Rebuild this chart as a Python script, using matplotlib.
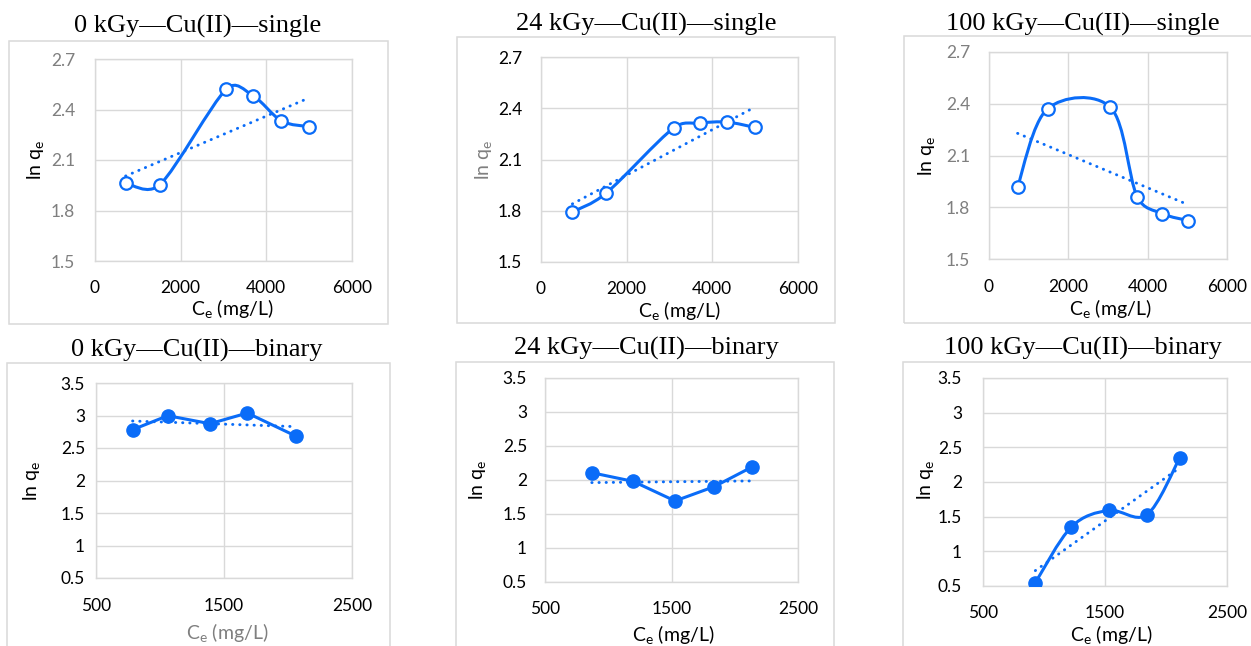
import numpy as np
import matplotlib
matplotlib.use("Agg")
import matplotlib.pyplot as plt
from matplotlib.path import Path
from matplotlib.patches import PathPatch, Rectangle

plt.rcParams["font.family"] = ["Lato", "DejaVu Sans"]
plt.rcParams["mathtext.default"] = "regular"

# ---------------- data ----------------
titles = [
    "0 kGy\u2014Cu(II)\u2014single",
    "24 kGy\u2014Cu(II)\u2014single",
    "100 kGy\u2014Cu(II)\u2014single",
    "0 kGy\u2014Cu(II)\u2014binary",
    "24 kGy\u2014Cu(II)\u2014binary",
    "100 kGy\u2014Cu(II)\u2014binary",
]

ce_single_0 = [715, 1515, 3070, 3690, 4350, 4990]
lnqe_single_0 = [1.962, 1.954, 2.522, 2.482, 2.333, 2.298]
ce_single_24 = [733, 1520, 3094, 3702, 4341, 4988]
lnqe_single_24 = [1.793, 1.903, 2.284, 2.313, 2.319, 2.288]
ce_single_100 = [721, 1477, 3062, 3733, 4371, 5017]
lnqe_single_100 = [1.920, 2.371, 2.379, 1.862, 1.763, 1.723]

ce_binary_0 = [786, 1061, 1391, 1682, 2066]
lnqe_binary_0 = [2.782, 2.997, 2.874, 3.038, 2.679]
ce_binary_24 = [870, 1197, 1528, 1837, 2135]
lnqe_binary_24 = [2.107, 1.980, 1.692, 1.902, 2.190]
ce_binary_100 = [929, 1224, 1530, 1844, 2112]
lnqe_binary_100 = [0.548, 1.351, 1.591, 1.529, 2.346]

single_xticks = [0, 2000, 4000, 6000]
single_yticks = [1.5, 1.8, 2.1, 2.4, 2.7]
binary_xticks = [500, 1500, 2500]
binary_yticks = [0.5, 1, 1.5, 2, 2.5, 3, 3.5]

# ---------------- styling ----------------
W, H = 1251, 646
BLUE = "#0a6cf8"
GRID = "#d9d9d9"
GRAY = "#7f7f7f"
BLACK = "#000000"

fig = plt.figure(figsize=(W / 100, H / 100), dpi=100)
fig.patch.set_facecolor("white")


def smooth_path(ax, xs, ys, tension=1.0 / 6.0):
    """Bezier spline through the points; control arms are built in screen
    space and capped at half of each segment's length."""
    pts = np.column_stack([xs, ys]).astype(float)
    disp = ax.transData.transform(pts)
    n = len(disp)
    ext = np.vstack([disp[0], disp, disp[-1]])
    verts = [disp[0]]
    codes = [Path.MOVETO]
    for i in range(n - 1):
        p0, p1, p2, p3 = ext[i], ext[i + 1], ext[i + 2], ext[i + 3]
        d12 = np.hypot(*(p2 - p1))
        d02 = np.hypot(*(p2 - p0))
        d13 = np.hypot(*(p3 - p1))
        f1 = tension if d02 * tension <= 0.5 * d12 or d02 == 0 else 0.5 * d12 / d02
        f2 = tension if d13 * tension <= 0.5 * d12 or d13 == 0 else 0.5 * d12 / d13
        c1 = p1 + (p2 - p0) * f1
        c2 = p2 - (p3 - p1) * f2
        verts += [c1, c2, p2]
        codes += [Path.CURVE4] * 3
    data_verts = ax.transData.inverted().transform(np.array(verts))
    return Path(data_verts, codes)


panels = [
    dict(x=ce_single_0, y=lnqe_single_0, kind="single", smooth=True,
         ax=(95, 59, 352, 261), box=(9, 41, 388, 324),
         title=(198, 33), ylab=(35, 160), xlab=(232, 309),
         ytc=GRAY, xtc=BLACK, ylc=BLACK, xlc=BLACK, ypad=20, xpad=19),
    dict(x=ce_single_24, y=lnqe_single_24, kind="single", smooth=True,
         ax=(541, 57, 798, 262), box=(457, 37, 835, 323),
         title=(646, 31), ylab=(483, 160), xlab=(679, 311),
         ytc=BLACK, xtc=BLACK, ylc=GRAY, xlc=BLACK, ypad=19, xpad=19),
    dict(x=ce_single_100, y=lnqe_single_100, kind="single", smooth=True,
         ax=(989, 52, 1227, 259), box=(904, 36, 1260, 323),
         title=(1083, 31), ylab=(927, 156), xlab=(1110, 309),
         ytc=GRAY, xtc=BLACK, ylc=BLACK, xlc=BLACK, ypad=19, xpad=20),
    dict(x=ce_binary_0, y=lnqe_binary_0, kind="binary", smooth=False,
         ax=(96, 383, 352, 578), box=(7, 363, 390, 660),
         title=(197, 357), ylab=(31, 481), xlab=(227, 632),
         ytc=BLACK, xtc=BLACK, ylc=BLACK, xlc=GRAY, ypad=11, xpad=20),
    dict(x=ce_binary_24, y=lnqe_binary_24, kind="binary", smooth=False,
         ax=(545, 378, 798, 582), box=(456, 362, 834, 660),
         title=(646, 355), ylab=(477, 480), xlab=(673, 634),
         ytc=BLACK, xtc=BLACK, ylc=BLACK, xlc=BLACK, ypad=18, xpad=19),
    dict(x=ce_binary_100, y=lnqe_binary_100, kind="binary", smooth=True,
         ax=(983, 378, 1227, 586), box=(903, 362, 1260, 660),
         title=(1083, 355), ylab=(926, 480), xlab=(1111, 635),
         ytc=BLACK, xtc=BLACK, ylc=BLACK, xlc=BLACK, ypad=21, xpad=19),
]

TICK_FS = 12.5
LABEL_FS = 14

for i, pnl in enumerate(panels):
    # outer chart frame
    bx0, by0, bx1, by1 = pnl["box"]
    fig.add_artist(Rectangle((bx0 / W, 1 - by1 / H), (bx1 - bx0) / W, (by1 - by0) / H,
                             transform=fig.transFigure, fill=False,
                             edgecolor=GRID, linewidth=1.1, zorder=0))

    x0, y0, x1, y1 = pnl["ax"]
    ax = fig.add_axes([x0 / W, 1 - y1 / H, (x1 - x0) / W, (y1 - y0) / H])
    ax.set_facecolor("none")

    if pnl["kind"] == "single":
        ax.set_xlim(0, 6000)
        ax.set_ylim(1.5, 2.7)
        ax.set_xticks(single_xticks)
        ax.set_yticks(single_yticks)
        ax.set_yticklabels([f"{v:.1f}" for v in single_yticks])
        ax.set_xticklabels([str(v) for v in single_xticks])
    else:
        ax.set_xlim(500, 2500)
        ax.set_ylim(0.5, 3.5)
        ax.set_xticks(binary_xticks)
        ax.set_yticks(binary_yticks)
        ax.set_yticklabels([f"{v:g}" for v in binary_yticks])
        ax.set_xticklabels([str(v) for v in binary_xticks])

    ax.grid(True, color=GRID, linewidth=1.0)
    ax.set_axisbelow(True)
    for sp in ax.spines.values():
        sp.set_color(GRID)
        sp.set_linewidth(1.0)
    ax.tick_params(axis="both", length=0, labelsize=TICK_FS)
    ax.tick_params(axis="y", colors=pnl["ytc"], pad=pnl["ypad"] * 0.72)
    ax.tick_params(axis="x", colors=pnl["xtc"], pad=pnl["xpad"] * 0.72)

    xs = np.asarray(pnl["x"], float)
    ys = np.asarray(pnl["y"], float)

    # linear trendline over the data range
    slope, intercept = np.polyfit(xs, ys, 1)
    tx = np.array([xs.min(), xs.max()])
    ax.plot(tx, slope * tx + intercept, color=BLUE, linewidth=2.1,
            linestyle=(0, (0.1, 2.35)), dash_capstyle="round", zorder=3)

    # series line
    if pnl["smooth"]:
        ax.add_patch(PathPatch(smooth_path(ax, xs, ys), facecolor="none",
                               edgecolor=BLUE, linewidth=2.2, zorder=4,
                               capstyle="round", joinstyle="round"))
    else:
        ax.plot(xs, ys, color=BLUE, linewidth=2.2, zorder=4,
                solid_joinstyle="round", solid_capstyle="round")

    # markers
    if pnl["kind"] == "single":
        ax.plot(xs, ys, linestyle="none", marker="o", markersize=9,
                markerfacecolor="white", markeredgecolor=BLUE,
                markeredgewidth=1.6, zorder=5)
    else:
        ax.plot(xs, ys, linestyle="none", marker="o", markersize=9.5,
                markerfacecolor=BLUE, markeredgecolor=BLUE, zorder=5)

    # titles and axis labels
    tx_, ty_ = pnl["title"]
    fig.text(tx_ / W, 1 - ty_ / H, titles[i], ha="center", va="baseline",
             fontsize=19, family=["Liberation Serif", "DejaVu Serif"], color="black")
    lx, ly = pnl["ylab"]
    fig.text(lx / W, 1 - ly / H, "ln q$_e$", rotation=90, ha="center", va="center",
             fontsize=LABEL_FS, color=pnl["ylc"])
    lx, ly = pnl["xlab"]
    fig.text(lx / W, 1 - ly / H, "C$_e$ (mg/L)", ha="center", va="center",
             fontsize=LABEL_FS, color=pnl["xlc"])

fig.savefig("out.png", dpi=100, facecolor="white")
